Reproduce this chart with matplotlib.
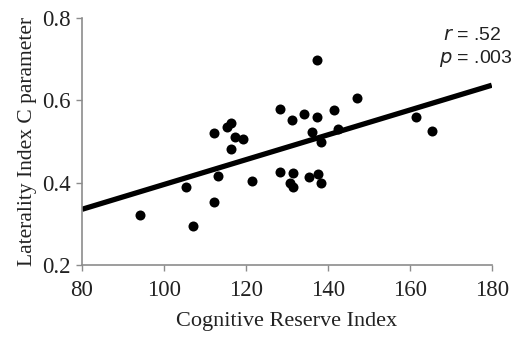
import numpy as np
import matplotlib.pyplot as plt

# Cognitive reserve index vs laterality index C parameter
cri = [94.2, 107.2, 105.3, 112.3, 113.2, 112.3, 115.4, 116.3, 117.3, 119.3,
       116.3, 121.4, 137.3, 128.4, 131.3, 134.2, 137.3, 141.4, 147.2, 136.2,
       138.3, 142.4, 128.4, 131.5, 130.7, 131.5, 135.4, 137.5, 138.3, 161.4,
       165.5]
lat_c = [0.321, 0.295, 0.389, 0.353, 0.416, 0.520, 0.536, 0.546, 0.512, 0.506,
         0.481, 0.405, 0.698, 0.580, 0.552, 0.567, 0.560, 0.577, 0.606, 0.522,
         0.499, 0.531, 0.426, 0.423, 0.400, 0.390, 0.413, 0.421, 0.399, 0.560,
         0.526]
stats_text = ['$r$ = .52', '$p$ = .003']

x = np.array(cri)
y = np.array(lat_c)

fig = plt.figure(figsize=(5.16, 3.37), dpi=100)
ax = fig.add_axes([0.159, 0.2136, 0.794, 0.733])

ax.scatter(x, y, s=52, color='black', zorder=3, linewidths=0)

# least squares line over the whole x range
slope, icpt = np.polyfit(x, y, 1)
xl = np.array([80, 180])
ax.plot(xl, slope * xl + icpt, color='black', lw=3.8, solid_capstyle='butt', zorder=2)

ax.set_xlim(80, 180)
ax.set_ylim(0.2, 0.8)
ax.set_xticks([80, 100, 120, 140, 160, 180])
ax.set_yticks([0.2, 0.4, 0.6, 0.8])
ax.set_yticklabels(['0.2', '0.4', '0.6', '0.8'])

for s in ['top', 'right']:
    ax.spines[s].set_visible(False)
for s in ['left', 'bottom']:
    ax.spines[s].set_color('#8c8c8c')
    ax.spines[s].set_linewidth(1.2)
ax.tick_params(direction='out', length=4, width=1, color='#8c8c8c',
               labelsize=16.5, labelcolor='#222222')
ax.tick_params(axis='x', pad=7)
ax.tick_params(axis='y', pad=4)
for lab in ax.get_xticklabels() + ax.get_yticklabels():
    lab.set_family('Liberation Serif')

ax.set_xlabel('Cognitive Reserve Index', family='Liberation Serif', fontsize=16,
              color='#222222', labelpad=8)
ax.set_ylabel('Laterality Index C parameter', family='Liberation Serif', fontsize=15.5,
              color='#222222', labelpad=4)

ax.text(0.882, 0.928, stats_text[0], transform=ax.transAxes, fontsize=14,
        family='Liberation Sans', color='#222222', va='center')
ax.text(0.872, 0.835, stats_text[1], transform=ax.transAxes, fontsize=14,
        family='Liberation Sans', color='#222222', va='center')

fig.savefig('out.png', dpi=100)
